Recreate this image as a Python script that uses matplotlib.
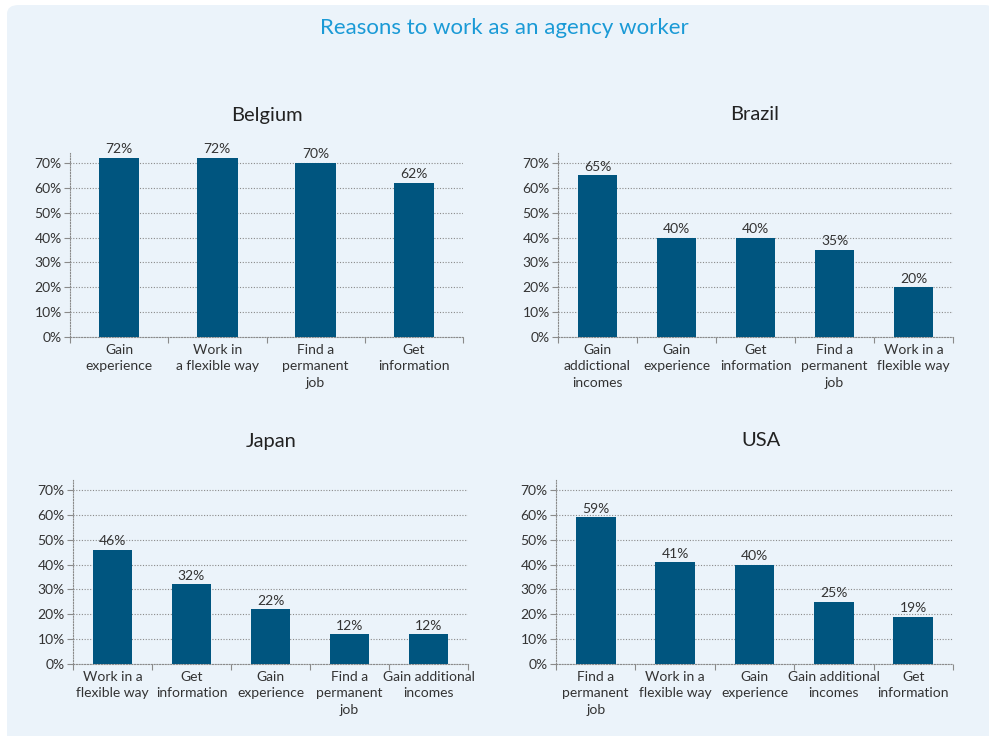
import matplotlib
matplotlib.use("Agg")
import matplotlib.pyplot as plt
from matplotlib.patches import FancyBboxPatch

# Data
belgium_labels = ["Gain\nexperience", "Work in\na flexible way", "Find a\npermanent\njob", "Get\ninformation"]
belgium_values = [72, 72, 70, 62]

brazil_labels = ["Gain\naddictional\nincomes", "Gain\nexperience", "Get\ninformation",
                 "Find a\npermanent\njob", "Work in a\nflexible way"]
brazil_values = [65, 40, 40, 35, 20]

japan_labels = ["Work in a\nflexible way", "Get\ninformation", "Gain\nexperience",
                "Find a\npermanent\njob", "Gain additional\nincomes"]
japan_values = [46, 32, 22, 12, 12]

usa_labels = ["Find a\npermanent\njob", "Work in a\nflexible way", "Gain\nexperience",
              "Gain additional\nincomes", "Get\ninformation"]
usa_values = [59, 41, 40, 25, 19]

y_ticks = [0, 10, 20, 30, 40, 50, 60, 70]

BAR = "#00557f"
TXT = "#333333"
GRID = "#8a8a8a"
PANEL = "#ebf3fa"

plt.rcParams["font.family"] = ["Lato", "DejaVu Sans"]

W, H = 989, 736
fig = plt.figure(figsize=(W / 100, H / 100), dpi=100)
fig.patch.set_facecolor("white")

panel = FancyBboxPatch((7 / W, -0.05), 1.0, 1.05 - 5 / H,
                       boxstyle="round,pad=0,rounding_size=0.012",
                       transform=fig.transFigure, facecolor=PANEL,
                       edgecolor="none", zorder=-10)
fig.patches.append(panel)

fig.text(504 / W, 1 - 28 / H, "Reasons to work as an agency worker",
         ha="center", va="center", fontsize=16, color="#1a9ad6")


def px_axes(left, right, y0, ytop):
    return fig.add_axes([left / W, 1 - y0 / H, (right - left) / W, (y0 - ytop) / H])


def draw_panel(ax, title, labels, values, width, title_xy):
    n = len(values)
    x = list(range(n))
    ax.set_facecolor("none")
    ax.bar(x, values, width=width, color=BAR, zorder=3)
    for xi, v in zip(x, values):
        ax.text(xi, v + 1.0, f"{v}%", ha="center", va="bottom",
                fontsize=10, color=TXT, zorder=4)
    ax.set_xlim(-0.5, n - 0.5)
    ax.set_ylim(0, 74)
    ax.set_yticks(y_ticks)
    ax.set_yticklabels([f"{t}%" for t in y_ticks])
    ax.set_xticks(x)
    ax.set_xticklabels(labels)
    ax.set_xticks([i - 0.5 for i in range(n + 1)], minor=True)
    ax.tick_params(axis="x", which="major", length=0, pad=5, labelsize=10, colors=TXT)
    ax.tick_params(axis="x", which="minor", length=4, width=0.8, color=GRID, direction="out")
    ax.tick_params(axis="y", length=4, width=0.8, color=GRID, labelsize=10,
                   labelcolor=TXT, pad=2)
    for t in ax.get_xticklabels():
        t.set_linespacing(1.45)
    ax.grid(axis="y", linestyle=(0, (1, 1.5)), color=GRID, linewidth=0.8, zorder=1)
    for side in ("top", "right"):
        ax.spines[side].set_visible(False)
    for side in ("left", "bottom"):
        ax.spines[side].set_linestyle((0, (1, 1.5)))
        ax.spines[side].set_color(GRID)
        ax.spines[side].set_linewidth(0.8)
    fig.text(title_xy[0] / W, 1 - title_xy[1] / H, title, ha="center", va="center",
             fontsize=14.5, color="#222222")


ax1 = px_axes(70, 463, 337, 153)
draw_panel(ax1, "Belgium", belgium_labels, belgium_values, 0.41, (267, 115))

ax2 = px_axes(558, 953, 337, 153)
draw_panel(ax2, "Brazil", brazil_labels, brazil_values, 0.5, (755, 115))

ax3 = px_axes(73, 468, 664, 480)
draw_panel(ax3, "Japan", japan_labels, japan_values, 0.5, (271, 441))

ax4 = px_axes(556, 953, 664, 480)
draw_panel(ax4, "USA", usa_labels, usa_values, 0.5, (761, 441))

fig.savefig("out.png", dpi=100, facecolor=fig.get_facecolor())
